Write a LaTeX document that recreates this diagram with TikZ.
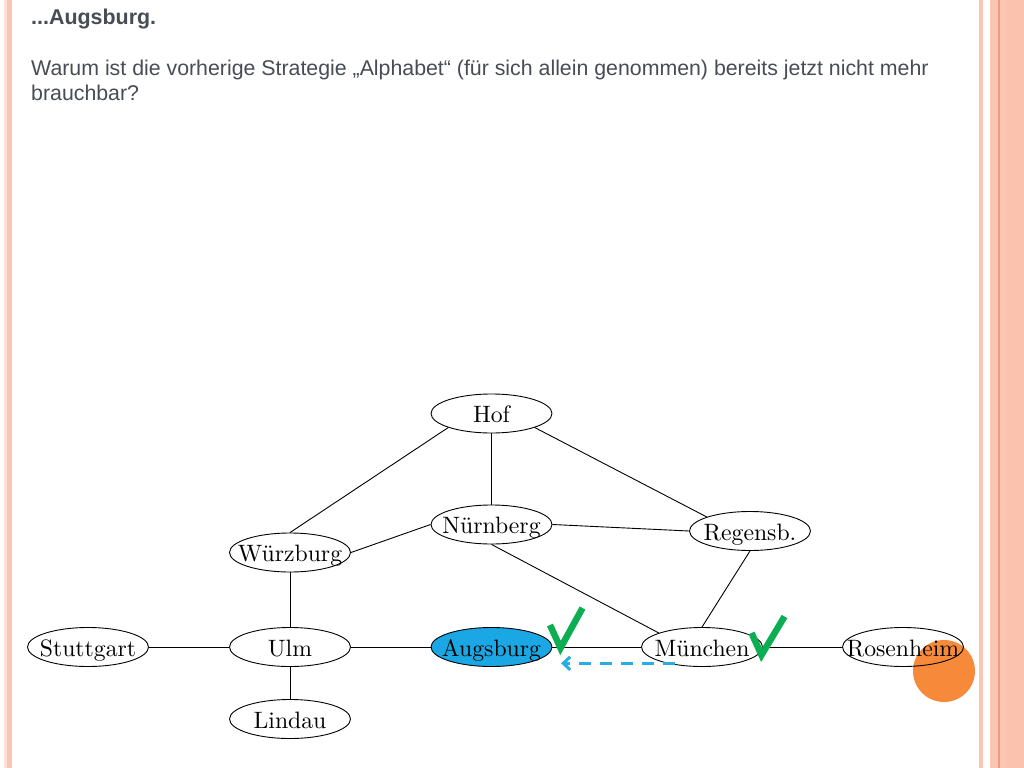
\documentclass[tikz,border=0pt]{standalone}
\usepackage{graphicx}
\usepackage{fontspec}
\setsansfont{Liberation Sans}
\usetikzlibrary{shapes.geometric,arrows.meta}
\definecolor{salmon}{HTML}{FAC6B3}
\definecolor{salmonlight}{HTML}{FCE2D4}
\definecolor{salmondark}{HTML}{EE9E7C}
\definecolor{salmonright}{HTML}{FBC3AE}
\definecolor{txtgray}{HTML}{474C55}
\definecolor{augblue}{HTML}{1AA7E3}
\definecolor{arrblue}{HTML}{27ACE6}
\definecolor{checkgreen}{HTML}{0DAE52}
\definecolor{dotorange}{HTML}{F7893A}
\tikzset{
  city/.style={draw=black, line width=0.9bp, ellipse, minimum width=121bp, minimum height=39bp,
    inner sep=0pt, text height=22bp, text depth=4bp, font=\fontsize{10}{12}\selectfont},
  edge/.style={draw=black, line width=0.9bp},
  checkmark/.style={draw=checkgreen, line width=6.5bp, line cap=butt, line join=miter},
  headtxt/.style={anchor=base west, inner sep=0pt, text=txtgray, font=\sffamily\bfseries\fontsize{21.5}{25}\selectfont},
  bodytxt/.style={anchor=base west, inner sep=0pt, text=txtgray, font=\sffamily\fontsize{21.4}{25}\selectfont}
}
\newcommand{\cname}[1]{\makebox[0pt][c]{\scalebox{2.38}{#1}}}
\begin{document}
\begin{tikzpicture}[x=1bp,y=-1bp]
\useasboundingbox (0,0) rectangle (1024,768);
\fill[white] (0,0) rectangle (1024,768);
% left border
\fill[salmonlight] (4,0) rectangle (7,768);
\fill[salmon] (7,0) rectangle (12.3,768);
% right border
\fill[salmon] (979,0) rectangle (983,768);
\fill[salmon] (990,0) rectangle (1024,768);
\fill[salmonright] (1007,0) rectangle (1024,768);
\fill[salmondark] (998,0) rectangle (999.8,768);
% texts
\node[headtxt] (h1) at (31,25) {...Augsburg.};
\node[bodytxt] (q1) at (31,76) {Warum ist die vorherige Strategie „Alphabet“ (für sich allein genommen) bereits jetzt nicht mehr};
\node[bodytxt] (q2) at (31,101) {brauchbar?};
% orange dot (behind nodes)
\fill[dotorange] (944,671) circle[radius=31];
% nodes
\node[city] (hof) at (491.5,413.5) {\cname{Hof}};
\node[city] (nue) at (491.5,524.5) {\cname{Nürnberg}};
\node[city] (wue) at (290,552.5) {\cname{Würzburg}};
\node[city] (reg) at (750,531) {\cname{Regensb.}};
\node[city] (stu) at (88,647) {\cname{Stuttgart}};
\node[city] (ulm) at (290,647) {\cname{Ulm}};
\node[city, fill=augblue] (aug) at (491.5,647) {\cname{Augsburg}};
\node[city] (mue) at (702,647) {\cname{München}};
\node[city] (ros) at (903,647) {\cname{Rosenheim}};
\node[city] (lin) at (290,719) {\cname{Lindau}};
% edges
\draw[edge] (hof.198) -- (wue.north);
\draw[edge] (hof.south) -- (nue.north);
\draw[edge] (hof.-18) -- (reg.162);
\draw[edge] (nue.west) -- (wue.east);
\draw[edge] (nue.east) -- (reg.west);
\draw[edge] (nue.south) -- (mue.162);
\draw[edge] (reg.south) -- (mue.north);
\draw[edge] (stu.east) -- (ulm.west);
\draw[edge] (ulm.east) -- (aug.west);
\draw[edge] (aug.east) -- (mue.west);
\draw[edge] (mue.east) -- (ros.west);
\draw[edge] (wue.south) -- (ulm.north);
\draw[edge] (ulm.south) -- (lin.north);
% checkmarks
\coordinate (c1a) at (550,625);
\coordinate (c1b) at (560.5,648);
\coordinate (c1c) at (582.5,608);
\draw[checkmark] (c1a) -- (c1b) -- (c1c);
\coordinate (c2a) at (751.5,633);
\coordinate (c2b) at (761.5,655);
\coordinate (c2c) at (784.5,616.5);
\draw[checkmark] (c2a) -- (c2b) -- (c2c);
% dashed arrow
\coordinate (arrS) at (675,663.3);
\coordinate (arrE) at (561,663.3);
\draw[arrblue, line width=3bp, dash pattern=on 12bp off 9bp, -{Straight Barb[length=7bp,width=13bp,line width=3bp]}] (arrS) -- (arrE);
\end{tikzpicture}
\end{document}
